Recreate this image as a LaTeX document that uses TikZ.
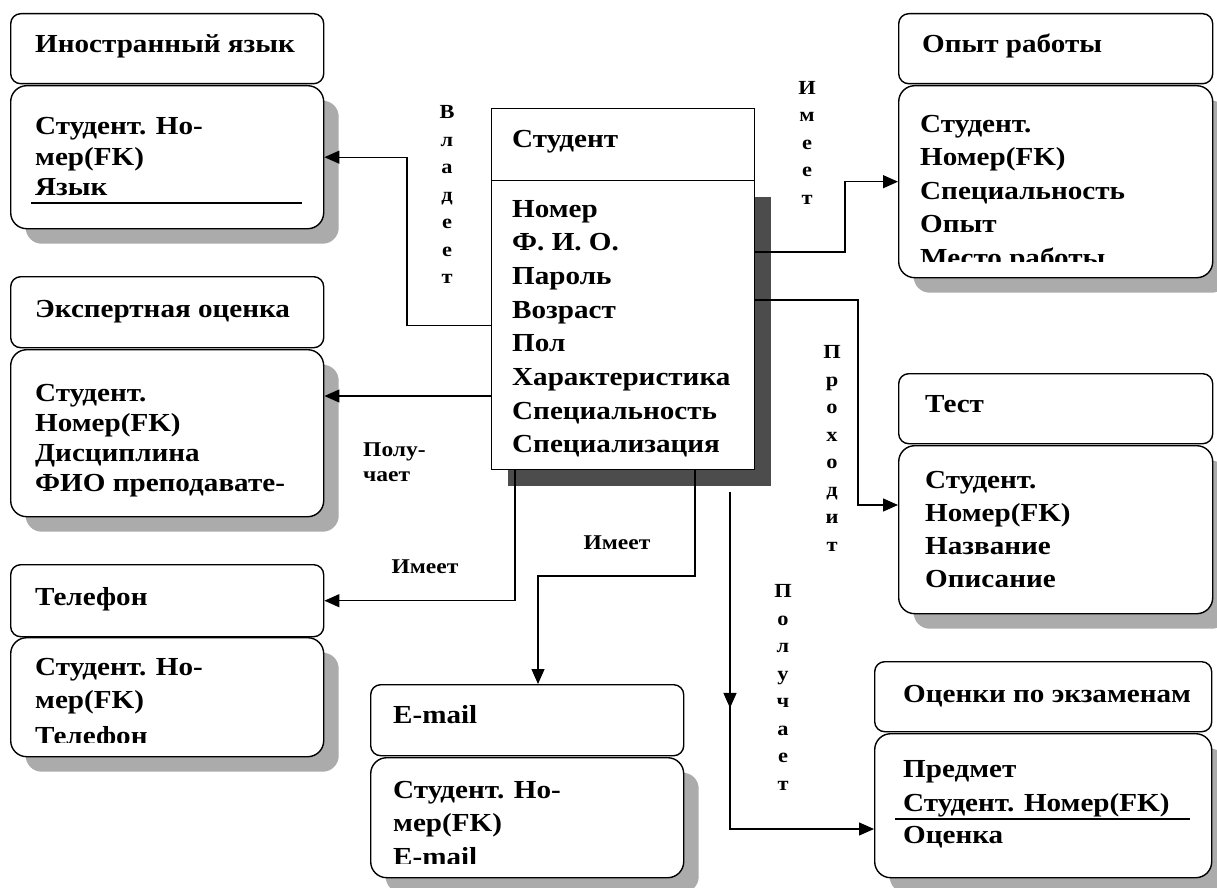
\documentclass[tikz,border=0pt]{standalone}
\usepackage{fontspec}
\setmainfont{Liberation Serif}[FakeStretch=1.12]
\usetikzlibrary{arrows.meta,shadows,decorations.markings}

\tikzset{
  hdr/.style={draw,line width=1.4,rounded corners=10,fill=white,anchor=north west,inner sep=0},
  body/.style={hdr,rounded corners=16,drop shadow={shadow xshift=15pt,shadow yshift=-15pt,fill=black!33,opacity=1}},
  ttl/.style={anchor=base west,inner sep=0,font=\fontsize{26}{30}\selectfont\bfseries},
  fld/.style={ttl},
  lbl/.style={inner sep=0,font=\fontsize{21}{25}\selectfont\bfseries},
  vlbl/.style={inner sep=0,align=center,font=\fontsize{20}{27.5}\selectfont\bfseries},
  conn/.style={line width=1.3},
  arr/.style={conn,-{Triangle[length=15pt,width=13pt]}}
}

\begin{document}
\begin{tikzpicture}[x=1pt,y=-1pt]
\useasboundingbox (0,0) rectangle (1217,888);

% Student
\node[hdr,rounded corners=0,minimum width=263,minimum height=72] (studH) at (491,108) {};
\node[hdr,rounded corners=0,minimum width=263,minimum height=289,
  drop shadow={shadow xshift=16pt,shadow yshift=-16pt,fill=black!70,opacity=1}] (studB) at (491,180) {};
\node[ttl] (studT) at (512,147) {Студент};
\foreach \txt [count=\i] in {Номер,Ф. И. О.,Пароль,Возраст,Пол,Характеристика,Специальность,Специализация}
  \node[fld] (studF\i) at (512,{217+(\i-1)*33.7}) {\txt};

% foreign language
\node[hdr,minimum width=313,minimum height=70] (langH) at (10,13) {};
\node[body,minimum width=313,minimum height=143] (langB) at (10,85) {};
\node[ttl] (langT) at (35,53) {Иностранный язык};
\foreach \txt [count=\i] in {Студент. Но-,мер(FK),Язык}
  \node[fld] (langF\i) at (35,{135+(\i-1)*30}) {\txt};
\draw[conn] (31,203) -- (302,203);

% expert mark
\node[hdr,minimum width=313,minimum height=71] (ekspH) at (10,276) {};
\node[body,minimum width=313,minimum height=167] (ekspB) at (10,349) {};
\node[ttl] (ekspT) at (35,317) {Экспертная оценка};
\foreach \txt [count=\i] in {Студент.,Номер(FK),Дисциплина,ФИО преподавате-}
  \node[fld] (ekspF\i) at (35,{401+(\i-1)*30}) {\txt};

% phone
\node[hdr,minimum width=313,minimum height=72] (telH) at (10,564) {};
\node[body,minimum width=313,minimum height=119] (telB) at (10,637) {};
\node[ttl] (telT) at (35,605) {Телефон};
\begin{scope}
\clip (10,637) rectangle (323,742);
\node[fld] (telF1) at (35,675) {Студент. Но-};
\node[fld] (telF2) at (35,708) {мер(FK)};
\node[fld] (telF3) at (35,744) {Телефон};
\end{scope}

% e-mail
\node[hdr,minimum width=313,minimum height=71] (mailH) at (370,684) {};
\node[body,minimum width=313,minimum height=120] (mailB) at (370,757) {};
\node[ttl] (mailT) at (393,723) {E-mail};
\begin{scope}
\clip (370,757) rectangle (683,863);
\node[fld] (mailF1) at (393,798) {Студент. Но-};
\node[fld] (mailF2) at (393,831) {мер(FK)};
\node[fld] (mailF3) at (393,865) {E-mail};
\end{scope}

% work experience
\node[hdr,minimum width=314,minimum height=70] (opytH) at (898,13) {};
\node[body,minimum width=314,minimum height=192] (opytB) at (898,85) {};
\node[ttl] (opytT) at (922,53) {Опыт работы};
\begin{scope}
\clip (898,85) rectangle (1212,261);
\foreach \txt [count=\i] in {Студент.,Номер(FK),Специальность,Опыт,Место работы}
  \node[fld] (opytF\i) at (920,{132+(\i-1)*33.5}) {\txt};
\end{scope}

% test
\node[hdr,minimum width=314,minimum height=70] (testH) at (898,373) {};
\node[body,minimum width=314,minimum height=168] (testB) at (898,445) {};
\node[ttl] (testT) at (925,412) {Тест};
\foreach \txt [count=\i] in {Студент.,Номер(FK),Название,Описание}
  \node[fld] (testF\i) at (925,{488+(\i-1)*33.3}) {\txt};

% exam marks
\node[hdr,minimum width=337,minimum height=70] (ocenH) at (874,661) {};
\node[body,minimum width=337,minimum height=144] (ocenB) at (874,733) {};
\node[ttl] (ocenT) at (903,702) {Оценки по экзаменам};
\node[fld] (ocenF1) at (903,777) {Предмет};
\node[fld] (ocenF2) at (903,811) {Студент. Номер(FK)};
\draw[conn] (895,819) -- (1190,819);
\node[fld] (ocenF3) at (903,843) {Оценка};

% links
\draw[arr] (studB.west) -- ++(-84,0) |- (langB.east);
\node[vlbl] (vladeet) at (447,194.5) {В\\л\\а\\д\\е\\е\\т};

\draw[arr] (studB.west |- 0,396) -- (ekspB.east |- 0,396);
\node[lbl,align=left,anchor=west] (poluLbl) at (363,462) {Полу-\\чает};

\draw[arr] (studB.south -| 515,0) |- (telH.east);
\node[lbl] (imeetTel) at (425,567) {Имеет};

\draw[arr] (studB.south -| 695,0) |- (538,576) -- (mailH.north -| 538,0);
\node[lbl] (imeetMail) at (617,543) {Имеет};

\draw[arr] (studB.east |- 0,252) -- (845,252) |- (opytB.west);
\node[vlbl] (imeetOp) at (807,142.5) {И\\м\\е\\е\\т};

\draw[arr] (studB.east |- 0,300) -- (858,300) |- (testB.west |- 0,505);
\node[vlbl] (prohodit) at (832,448.5) {П\\р\\о\\х\\о\\д\\и\\т};

\coordinate (polStart) at (730,492);
\draw[arr,postaction={decorate},decoration={markings,
  mark=at position 0.449 with {\arrow{Triangle[length=15pt,width=13pt]}}}]
  (polStart) |- (ocenB.west |- 0,829);
\node[vlbl] (poluchaet) at (783,687.5) {П\\о\\л\\у\\ч\\а\\е\\т};
\end{tikzpicture}
\end{document}
